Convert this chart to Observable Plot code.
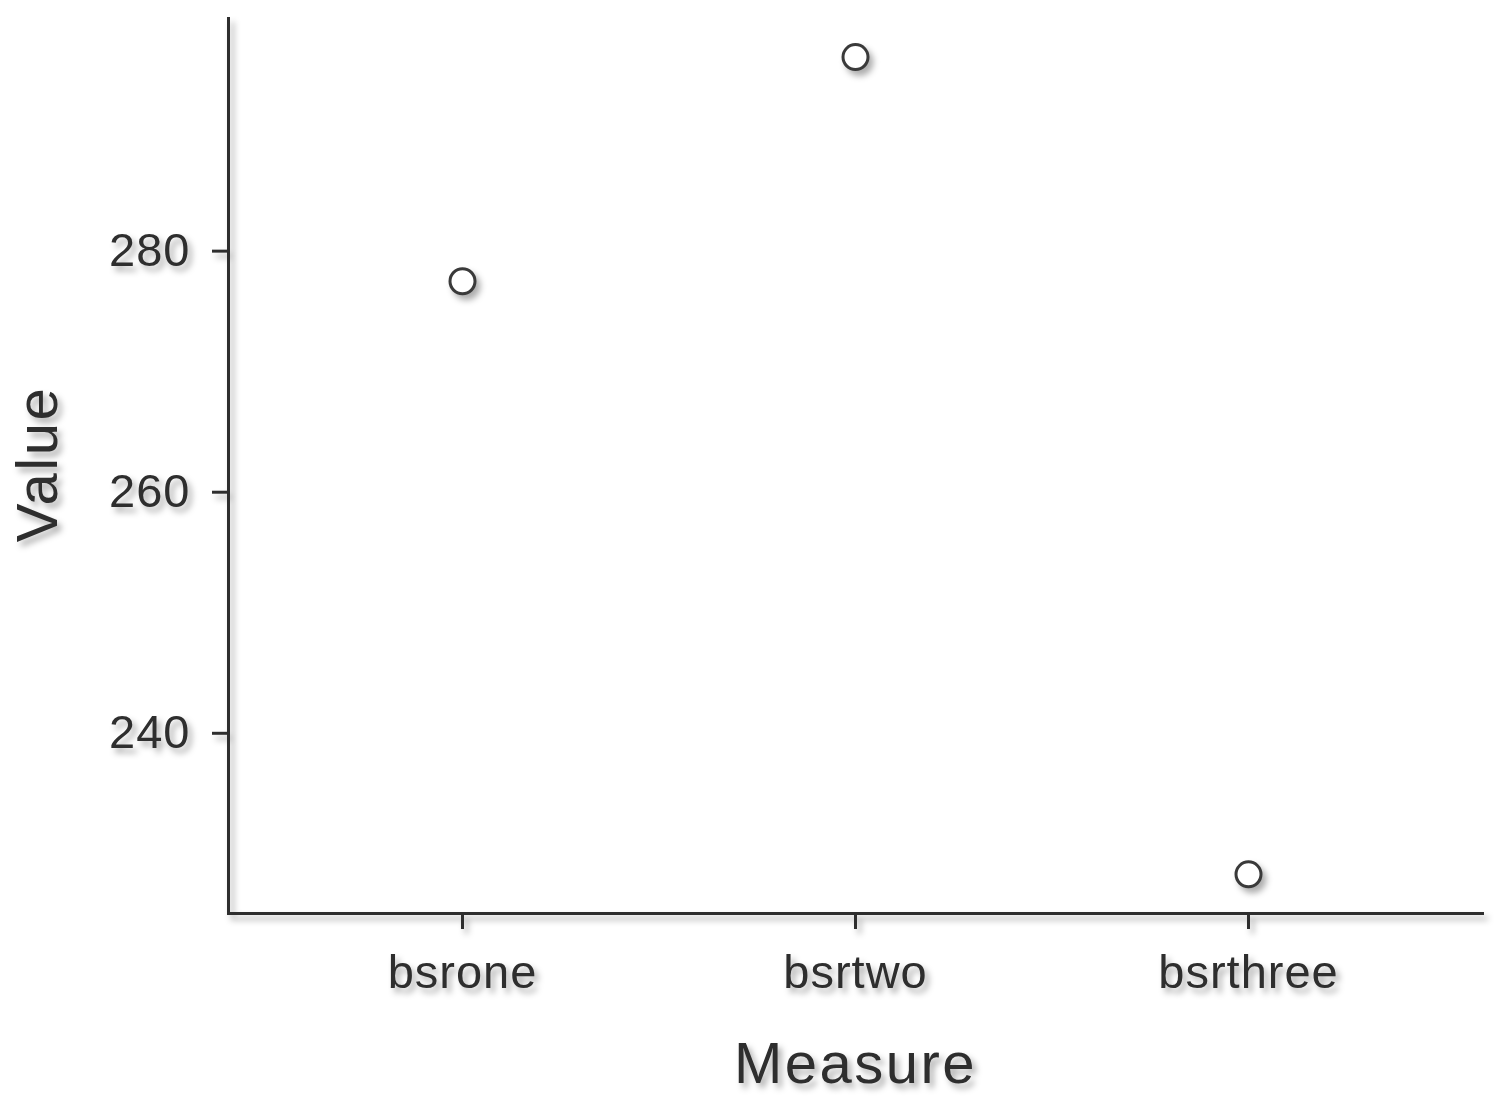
<!DOCTYPE html>
<html>
<head>
<meta charset="utf-8">
<script src="https://cdn.jsdelivr.net/npm/d3@7"></script>
<script src="https://cdn.jsdelivr.net/npm/@observablehq/plot@0.6"></script>
<style>
  html, body { margin: 0; padding: 0; background: #fff; }
  #chart svg { display: block; filter: drop-shadow(4px 5px 3px rgba(0,0,0,0.32)); }
</style>
</head>
<body>
<div id="chart"></div>
<script>
const measures = ["bsrone", "bsrtwo", "bsrthree"];
const values = [277.5, 296.1, 228.3];
const yTicks = [240, 260, 280];
const xTitle = "Measure";
const yTitle = "Value";

const data = measures.map((m, i) => ({measure: m, value: values[i]}));

const chart = Plot.plot({
  width: 1500,
  height: 1112,
  marginLeft: 228,
  marginRight: 18,
  marginTop: 18,
  marginBottom: 199,
  style: {fontFamily: "'Liberation Sans', Arial, sans-serif", fontSize: "47px", color: "#2e2e2e", background: "transparent"},
  x: {type: "point", domain: measures, padding: 0.595, label: null, tickSize: 16, tickPadding: 25, line: true},
  y: {domain: [225.05, 299.3], ticks: yTicks, label: null, tickSize: 16, tickPadding: 22, line: true},
  marks: [
    Plot.dot(data, {x: "measure", y: "value", r: 12.5, fill: "#fff", stroke: "#3a3a3a", strokeWidth: 3}),
    Plot.text([yTitle], {text: d => d, frameAnchor: "left", textAnchor: "middle", lineAnchor: "middle", dx: -190, dy: -2, rotate: -90, fontSize: 58, fill: "#2e2e2e"}),
    Plot.text([xTitle], {text: d => d, frameAnchor: "bottom", textAnchor: "middle", lineAnchor: "middle", dy: 151, fontSize: 58, fill: "#2e2e2e"})
  ]
});

document.getElementById("chart").appendChild(chart);

const svg = d3.select(chart);
svg.selectAll("line, path").attr("stroke-width", 3);
svg.selectAll("g[stroke-width]").attr("stroke-width", 3);
svg.selectAll("g[aria-label*='tick label'] text").style("letter-spacing", "1px");
svg.selectAll("g[aria-label='text'] text").style("letter-spacing", "2.5px");
</script>
</body>
</html>
